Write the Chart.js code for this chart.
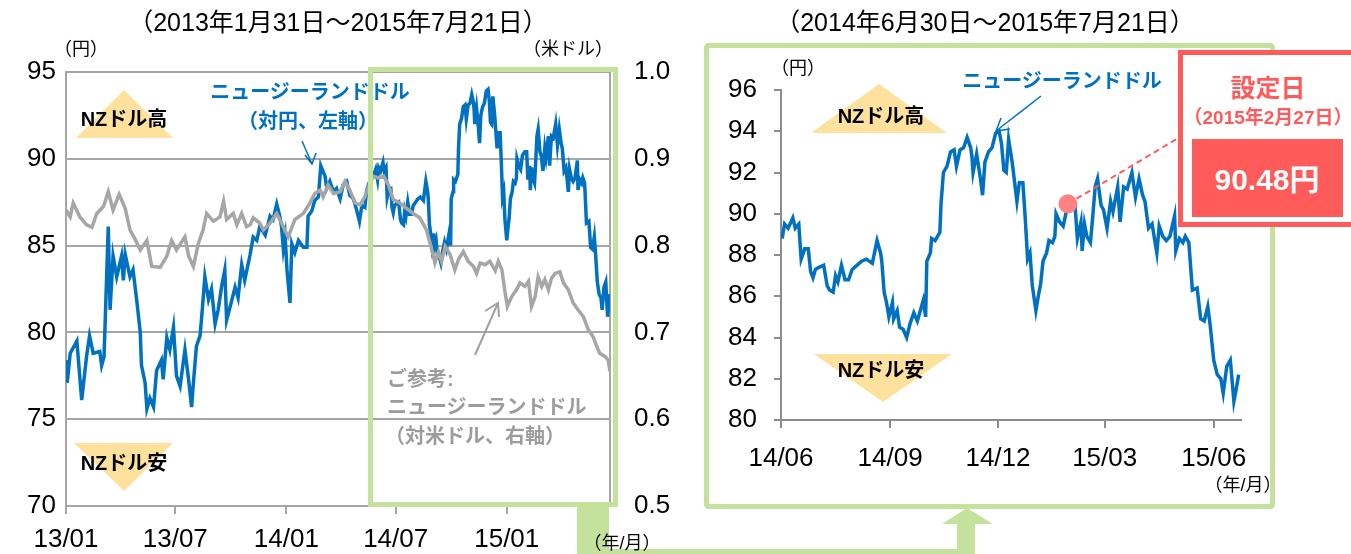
<!DOCTYPE html>
<html>
<head>
<meta charset="utf-8">
<script src="https://cdn.jsdelivr.net/npm/chart.js@4.4.0/dist/chart.umd.min.js"></script>
<style>
  body { margin: 0; background: #fff; width: 1351px; height: 554px; overflow: hidden; position: relative; }
  #leftBox { position: absolute; left: 0; top: 0; width: 680px; height: 554px; }
  #rightBox { position: absolute; left: 680px; top: 0; width: 671px; height: 554px; }
  #overlay { position: absolute; left: 0; top: 0; pointer-events: none; }
  #overlay text { font-family: "Liberation Sans", "Noto Sans CJK JP", sans-serif; }
</style>
</head>
<body>
<div id="leftBox"><canvas id="leftChart" width="680" height="554"></canvas></div>
<div id="rightBox"><canvas id="rightChart" width="671" height="554"></canvas></div>

<svg id="overlay" width="1351" height="554">
  <!-- NZドル高 / 安 arrows -->
  <polygon points="76,138 173,138 124,90" fill="#fde19c"/>
  <polygon points="74,443 173,443 124,491" fill="#fde19c"/>
  <polygon points="811,133 947,133 879,84" fill="#fde19c"/>
  <polygon points="814,354 952,354 883,402" fill="#fde19c"/>

  <!-- green frames and connector -->
  <rect x="370.5" y="69.5" width="245" height="435" fill="none" stroke="#c4e29b" stroke-width="5"/>
  <rect x="706.5" y="45.5" width="566" height="461" rx="2" fill="none" stroke="#c4e29b" stroke-width="5"/>
  <rect x="577" y="507" width="32" height="47" fill="#c4e29b"/>
  <rect x="577" y="549" width="398" height="5" fill="#c4e29b"/>
  <rect x="957" y="523" width="18" height="31" fill="#c4e29b"/>
  <polygon points="942,524 993,524 967,508" fill="#c4e29b"/>

  <!-- callout -->
  <rect x="1180.5" y="52.5" width="200" height="172" fill="#fff" stroke="#ff5b5b" stroke-width="5"/>
  <rect x="1192" y="139" width="151" height="78" fill="#ff5b5b"/>
  <text x="1268" y="88" text-anchor="middle" dominant-baseline="central" font-size="25" font-weight="bold" fill="#ff5b5b">設定日</text>
  <text x="1268" y="117" text-anchor="middle" dominant-baseline="central" font-size="19" font-weight="bold" fill="#ff5b5b">（2015年2月27日）</text>
  <text x="1267" y="179" text-anchor="middle" dominant-baseline="central" font-size="30" font-weight="bold" fill="#fff">90.48円</text>

  <!-- pointer arrows -->
  <g stroke="#0070c0" stroke-width="1.5" fill="none">
    <line x1="302" y1="141" x2="312" y2="164"/>
    <polyline points="305,155 312,164 316,153"/>
    <line x1="1041" y1="96" x2="996" y2="131"/>
    <polyline points="1001,118 996,131 1010,129"/>
  </g>
  <g stroke="#a0a0a0" stroke-width="2" fill="none">
    <line x1="475" y1="355" x2="498" y2="303"/>
    <polyline points="485,311 498,303 499,317"/>
  </g>

  <!-- titles and units -->
  <text x="338" y="22" text-anchor="middle" dominant-baseline="central" font-size="25">（2013年1月31日～2015年7月21日）</text>
  <text x="985" y="22" text-anchor="middle" dominant-baseline="central" font-size="25">（2014年6月30日～2015年7月21日）</text>
  <text x="81" y="49" text-anchor="middle" dominant-baseline="central" font-size="18">（円）</text>
  <text x="568" y="49" text-anchor="middle" dominant-baseline="central" font-size="18">（米ドル）</text>
  <text x="622" y="543" text-anchor="middle" dominant-baseline="central" font-size="18">（年/月）</text>
  <text x="798" y="68" text-anchor="middle" dominant-baseline="central" font-size="18">（円）</text>
  <text x="1243" y="485" text-anchor="middle" dominant-baseline="central" font-size="18">（年/月）</text>

  <!-- series labels -->
  <text x="310" y="92" text-anchor="middle" dominant-baseline="central" font-size="20" font-weight="bold" fill="#0070c0">ニュージーランドドル</text>
  <text x="308" y="121" text-anchor="middle" dominant-baseline="central" font-size="20" font-weight="bold" fill="#0070c0">（対円、左軸）</text>
  <text x="1062" y="81" text-anchor="middle" dominant-baseline="central" font-size="20" font-weight="bold" fill="#0070c0">ニュージーランドドル</text>
  <text x="387" y="379" dominant-baseline="central" font-size="20" font-weight="bold" fill="#9c9c9c">ご参考:</text>
  <text x="387" y="407" dominant-baseline="central" font-size="20" font-weight="bold" fill="#9c9c9c">ニュージーランドドル</text>
  <text x="385" y="436" dominant-baseline="central" font-size="20" font-weight="bold" fill="#9c9c9c">（対米ドル、右軸）</text>

  <text x="124" y="119" text-anchor="middle" dominant-baseline="central" font-size="20" font-weight="bold">NZドル高</text>
  <text x="124" y="463" text-anchor="middle" dominant-baseline="central" font-size="20" font-weight="bold">NZドル安</text>
  <text x="881" y="116" text-anchor="middle" dominant-baseline="central" font-size="20" font-weight="bold">NZドル高</text>
  <text x="881" y="370" text-anchor="middle" dominant-baseline="central" font-size="20" font-weight="bold">NZドル安</text>
</svg>

<script>
// days counted from 2013-01-31
const jpyDays = [
  0, 2, 7, 18, 26, 34, 39, 45, 56, 59, 63, 70, 73, 78, 84, 92, 95, 98, 106, 111,
  117, 123, 125, 131, 134, 139, 145, 150, 158, 161, 167, 172, 178, 183, 189, 197, 203, 208, 211, 216,
  222, 225, 230, 236, 241, 247, 252, 258, 263, 266, 272, 280, 285, 291, 296, 305, 310, 316, 321, 330,
  338, 343, 349, 354, 357, 360, 363, 366, 371, 374, 379, 385, 393, 399, 401, 407, 412, 418, 422, 429,
  432, 437, 443, 448, 454, 459, 465, 470, 476, 481, 486, 490, 495, 498, 504, 509, 513,
  516, 518, 521, 525, 527, 530, 532, 535, 538, 540, 542, 544, 547, 551, 554, 556, 559, 561, 563, 566,
  569, 572, 575, 579, 583, 587, 592, 596, 599, 600, 602, 604, 606, 609, 610, 613, 615, 618, 621, 624,
  627, 630, 632, 635, 637, 638, 641, 642, 645, 649, 650, 652, 655, 658, 661, 663, 666, 669, 672, 675,
  676, 677, 680, 683, 685, 687, 690, 693, 696, 699, 701, 703, 705, 707, 710, 714, 716, 719, 721, 723,
  725, 727, 730, 732, 734, 736, 739, 741, 744, 746, 747, 750, 753, 756, 760, 763, 765, 768, 769, 771,
  773, 776, 778, 780, 782, 785, 787, 790, 793, 795, 799, 801, 804, 807, 811, 814, 817, 820, 822, 825,
  828, 832, 834, 837, 840, 843, 847, 848, 851, 854, 856, 859, 862, 866, 869, 872, 875, 877, 880, 883,
  886, 888, 891, 894, 897, 899, 901
];
const jpyValues = [
  78.4, 77.1, 78.8, 79.5, 76.1, 78.6, 79.8, 78.8, 78.9, 78.1, 78.6, 86.1, 81.3, 84.4, 83.2, 84.4, 83.0, 84.5, 83.2, 83.6,
  81.9, 80.0, 78.1, 77.1, 75.6, 76.2, 75.7, 77.8, 78.4, 77.3, 79.7, 79.0, 80.3, 77.5, 76.9, 79.0, 77.3, 75.7, 77.1, 79.2,
  79.8, 81.0, 83.2, 81.9, 82.5, 80.5, 81.3, 82.7, 83.6, 80.7, 81.5, 82.6, 82.0, 83.9, 83.0, 84.5, 85.5, 85.3, 86.1, 85.6,
  86.7, 86.5, 87.4, 86.7, 86.1, 84.8, 85.5, 83.6, 81.7, 85.1, 84.6, 85.3, 84.9, 84.9, 86.7, 87.0, 87.6, 87.8, 89.6, 89.0,
  88.3, 88.7, 88.1, 88.3, 87.7, 88.5, 88.7, 87.9, 87.7, 87.1, 86.4, 87.3, 87.2, 88.2, 88.8, 89.0, 89.4,
  88.8, 89.5, 89.3, 89.8, 89.3, 89.5, 87.8, 88.3, 88.3, 87.2, 86.9, 87.3, 87.4, 87.5, 86.5, 86.3, 86.2, 87.0, 86.7, 87.5,
  86.8, 86.8, 87.3, 87.5, 87.7, 87.8, 87.6, 88.7, 88.1, 87.7, 86.2, 85.7, 85.0, 85.7, 84.9, 85.3, 84.5, 84.4, 84.0, 84.7,
  85.2, 84.8, 85.2, 85.8, 85.0, 87.7, 88.1, 88.8, 88.7, 89.1, 90.5, 92.0, 92.3, 93.0, 93.1, 92.3, 93.1, 93.2, 93.7, 93.2,
  92.8, 92.0, 92.9, 91.8, 90.9, 92.5, 93.0, 93.2, 93.9, 94.0, 93.4, 92.1, 92.0, 93.6, 92.5, 90.6, 91.5, 91.5, 89.8, 87.8,
  88.1, 86.5, 85.3, 86.0, 86.6, 87.7, 88.1, 88.7, 88.6, 88.9, 90.0, 89.6, 89.4, 90.2, 90.4, 90.4, 88.8, 89.6, 88.2, 89.5,
  88.9, 88.6, 89.9, 91.3, 91.7, 90.4, 90.2, 89.3, 90.6, 90.1, 91.3, 89.6, 91.3, 91.2, 92.0, 90.8, 91.7, 90.9, 90.6, 89.3,
  89.5, 88.1, 89.4, 88.9, 88.7, 88.9, 89.9, 88.2, 88.8, 88.6, 88.9, 88.6, 86.3, 86.4, 84.9, 84.8, 85.5, 84.6, 82.9, 82.2,
  82.0, 81.3, 82.6, 82.9, 80.9, 81.5, 82.2
];
const usdDays = [
  0, 7, 12, 23, 34, 43, 51, 62, 70, 78, 88, 98, 106, 114, 123, 134, 142, 156, 167, 175,
  183, 197, 203, 211, 219, 227, 233, 244, 255, 261, 266, 277, 283, 291, 299, 305, 310, 321, 327, 338,
  349, 357, 368, 379, 393, 404, 412, 421, 426, 434, 443, 454, 462, 470, 479, 487, 495, 501, 509, 517,
  526, 534, 542, 553, 564, 575, 586, 597, 606, 611, 617, 622, 628, 636, 644, 650, 658, 666, 675, 680,
  686, 694, 702, 711, 716, 722, 727, 731, 738, 746, 752, 760, 766, 771, 777, 782, 788, 793, 799, 804,
  810, 818, 824, 832, 840, 848, 857, 865, 873, 879, 884, 893, 898, 901
];
const usdValues = [
  0.841, 0.833, 0.849, 0.833, 0.824, 0.821, 0.837, 0.845, 0.862, 0.841, 0.859, 0.843, 0.818, 0.808, 0.795, 0.806, 0.776, 0.775, 0.788, 0.806,
  0.795, 0.810, 0.788, 0.776, 0.802, 0.818, 0.837, 0.828, 0.833, 0.851, 0.830, 0.837, 0.824, 0.837, 0.822, 0.824, 0.832, 0.826, 0.818, 0.826,
  0.837, 0.826, 0.810, 0.830, 0.837, 0.849, 0.860, 0.864, 0.856, 0.870, 0.860, 0.862, 0.874, 0.864, 0.849, 0.847, 0.856, 0.868, 0.880, 0.878,
  0.880, 0.870, 0.853, 0.849, 0.843, 0.837, 0.832, 0.818, 0.795, 0.780, 0.793, 0.782, 0.799, 0.790, 0.772, 0.784, 0.793, 0.782, 0.776, 0.768,
  0.780, 0.778, 0.782, 0.771, 0.782, 0.772, 0.747, 0.730, 0.741, 0.749, 0.757, 0.753, 0.759, 0.730, 0.741, 0.764, 0.753, 0.761, 0.749, 0.762,
  0.768, 0.770, 0.757, 0.749, 0.734, 0.726, 0.718, 0.703, 0.695, 0.684, 0.676, 0.672, 0.668, 0.655
];

const leftTickDays = [0, 181, 365, 546, 730];
const leftTickLabels = ["13/01", "13/07", "14/01", "14/07", "15/01"];
const rightTickDays = [515, 607, 698, 788, 880];
const rightTickLabels = ["14/06", "14/09", "14/12", "15/03", "15/06"];

const zoomStartDay = 515;   // 2014-06-30
const launchDay = 757;      // 2015-02-27
const launchValue = 90.48;

const FONT = '"Liberation Sans", "Noto Sans CJK JP", sans-serif';
Chart.defaults.font.family = FONT;
Chart.defaults.color = "#000";

const jpyPoints = jpyDays.map((d, i) => ({ x: d, y: jpyValues[i] }));
const usdPoints = usdDays.map((d, i) => ({ x: d, y: usdValues[i] }));
const zoomPoints = jpyPoints.filter((p) => p.x >= zoomStartDay);

const AXIS_GRAY = "#a6a6a6";

new Chart(document.getElementById("leftChart"), {
  type: "line",
  data: {
    datasets: [
      {
        data: usdPoints,
        yAxisID: "y2",
        borderColor: "#a6a6a6",
        borderWidth: 3.5,
        pointRadius: 0,
        tension: 0,
      },
      {
        data: jpyPoints,
        yAxisID: "y",
        borderColor: "#0070c0",
        borderWidth: 3.5,
        pointRadius: 0,
        tension: 0,
      },
    ],
  },
  options: {
    responsive: false,
    animation: false,
    devicePixelRatio: 1,
    layout: { padding: { top: 72, left: 0, right: 0, bottom: 0 } },
    plugins: { legend: { display: false }, tooltip: { enabled: false } },
    scales: {
      x: {
        type: "linear",
        min: 0,
        max: 901,
        afterBuildTicks: (s) => {
          s.ticks = leftTickDays.map((v) => ({ value: v }));
        },
        afterFit: (s) => {
          s.height = 48;
        },
        grid: { drawOnChartArea: false, drawTicks: true, tickLength: 8, color: AXIS_GRAY, lineWidth: 2 },
        border: { color: AXIS_GRAY, width: 2 },
        ticks: {
          autoSkip: false,
          maxRotation: 0,
          padding: 10,
          font: { size: 26 },
          callback: (v, i) => leftTickLabels[i],
        },
      },
      y: {
        position: "left",
        min: 70,
        max: 95,
        afterFit: (s) => {
          s.width = 66;
        },
        grid: { color: AXIS_GRAY, lineWidth: 2, drawTicks: false },
        border: { color: AXIS_GRAY, width: 2 },
        ticks: { stepSize: 5, padding: 10, font: { size: 26 } },
      },
      y2: {
        position: "right",
        min: 0.5,
        max: 1.0,
        afterFit: (s) => {
          s.width = 70;
        },
        grid: { drawOnChartArea: false, drawTicks: false },
        border: { color: AXIS_GRAY, width: 2 },
        ticks: { stepSize: 0.1, padding: 24, font: { size: 26 }, callback: (v) => v.toFixed(1) },
      },
    },
  },
});

// dashed leader from the launch-day dot to the callout box
const leaderLine = {
  id: "leaderLine",
  afterDatasetsDraw(chart) {
    const { ctx } = chart;
    const px = chart.scales.x.getPixelForValue(launchDay);
    const py = chart.scales.y.getPixelForValue(launchValue);
    const ex = 1180 - 680, ey = 137;
    const len = Math.hypot(ex - px, ey - py);
    ctx.save();
    ctx.strokeStyle = "#ff5b5b";
    ctx.lineWidth = 2;
    ctx.setLineDash([6, 4]);
    ctx.beginPath();
    ctx.moveTo(px + ((ex - px) / len) * 10, py + ((ey - py) / len) * 10);
    ctx.lineTo(ex, ey);
    ctx.stroke();
    ctx.restore();
  },
};

new Chart(document.getElementById("rightChart"), {
  type: "line",
  data: {
    datasets: [
      {
        type: "scatter",
        data: [{ x: launchDay, y: launchValue }],
        pointRadius: 9.5,
        pointBackgroundColor: "#ff8282",
        pointBorderWidth: 0,
      },
      {
        data: zoomPoints,
        borderColor: "#0070c0",
        borderWidth: 3.5,
        pointRadius: 0,
        tension: 0,
      },
    ],
  },
  options: {
    responsive: false,
    animation: false,
    devicePixelRatio: 1,
    layout: { padding: { top: 90, left: 0, right: 110, bottom: 0 } },
    plugins: { legend: { display: false }, tooltip: { enabled: false } },
    scales: {
      x: {
        type: "linear",
        min: 515,
        max: 903,
        afterBuildTicks: (s) => {
          s.ticks = rightTickDays.map((v) => ({ value: v }));
        },
        afterFit: (s) => {
          s.height = 134;
        },
        grid: { drawOnChartArea: false, drawTicks: true, tickLength: 8, color: "#8c8c8c", lineWidth: 2 },
        border: { color: "#8c8c8c", width: 2 },
        ticks: {
          autoSkip: false,
          maxRotation: 0,
          padding: 15,
          font: { size: 26 },
          callback: (v, i) => rightTickLabels[i],
        },
      },
      y: {
        min: 80,
        max: 96,
        afterFit: (s) => {
          s.width = 101;
        },
        grid: { drawOnChartArea: false, drawTicks: true, tickLength: 7, color: "#8c8c8c", lineWidth: 2 },
        border: { color: "#8c8c8c", width: 2 },
        ticks: { stepSize: 2, padding: 17, font: { size: 26 } },
      },
    },
  },
  plugins: [leaderLine],
});
</script>
</body>
</html>
